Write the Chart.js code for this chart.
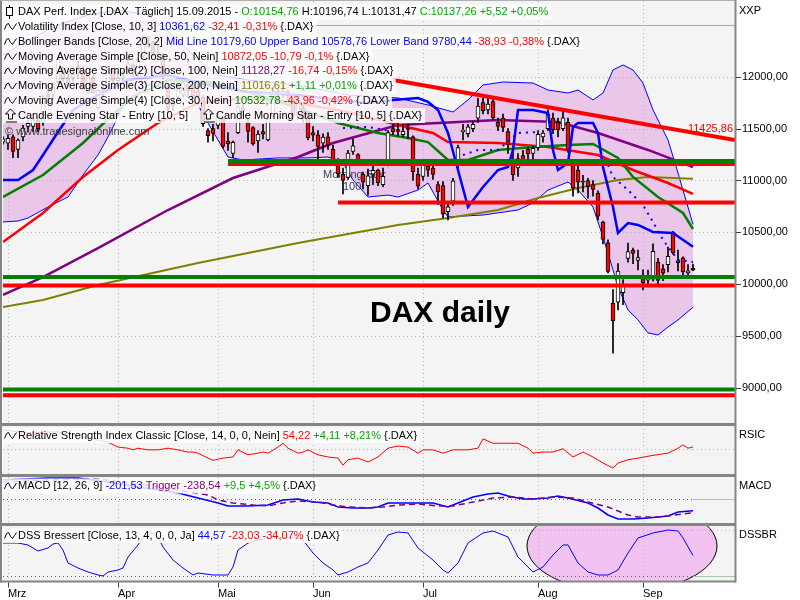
<!DOCTYPE html>
<html>
<head>
<meta charset="utf-8">
<script src="https://cdn.jsdelivr.net/npm/chart.js@4.4.0/dist/chart.umd.min.js"></script>
<style>
  html, body { margin: 0; padding: 0; background: #fff; }
  #wrap { position: relative; width: 800px; height: 600px; }
</style>
</head>
<body>
<div id="wrap"><canvas id="dax" width="800" height="600"></canvas></div>
<script>
// x = trading day index, 0 = 02.03.2015
const monthStarts = [0, 22, 42, 61, 83, 106, 127];
const monthLabels = ['Mrz', 'Apr', 'Mai', 'Jun', 'Jul', 'Aug', 'Sep'];
const priceTicks = [9000, 9500, 10000, 10500, 11000, 11500, 12000];
const firstDay = -1;

// daily candles from 27.02. to 15.09.2015
const opens = [11370,11360,11420,11300,11420,11520,11520,11580,11560,11830,11830,11950,12080,11990,11990,12100,12050,11850,11990,11700,
  11890,11910,12050,11960,11990,12080,12110,12030,12200,12380,12330,12210,12200,11900,11740,11800,11830,11920,11900,11860,
  11800,11480,11500,11530,11590,11380,11260,11460,11700,11560,11510,11380,11470,11390,11620,11860,11830,11850,11780,11620,
  11700,11640,11460,11440,11360,11420,11300,11190,11060,11030,11280,11250,11060,10950,11060,11100,10960,11150,11500,11490,
  11440,11500,11420,11060,11040,11140,11120,10960,10950,10700,10800,11160,11470,11450,11500,11600,11750,11680,11760,11560,
  11600,11470,11200,11120,11240,11300,11260,11315,11420,11500,11600,11560,11500,11560,11150,11100,10990,11000,10960,10880,
  10600,10400,9820,9830,9920,10250,10330,10230,10090,10040,10050,10215,10150,10190,10500,10230,10255,10110,10154.76];
const highs = [11420,11440,11440,11400,11530,11580,11600,11610,11820,11880,11920,12170,12100,12050,12080,12150,12100,12040,12010,11880,
  11920,12100,12080,12030,12050,12180,12140,12180,12390,12390,12340,12300,12220,11920,11800,11920,11960,11960,11920,11930,
  11820,11500,11540,11650,11600,11460,11380,11720,11730,11600,11520,11480,11540,11610,11900,11880,11920,11870,11790,11790,
  11720,11660,11520,11480,11450,11460,11340,11210,11120,11290,11400,11260,11080,11110,11180,11110,11120,11480,11540,11550,
  11540,11540,11430,11120,11200,11170,11150,10990,10990,10790,11020,11340,11540,11540,11565,11790,11790,11800,11780,11600,
  11640,11500,11270,11260,11290,11320,11330,11480,11480,11680,11650,11600,11670,11600,11180,11170,11050,11020,11000,10900,
  10610,10430,9950,10200,10047,10397,10350,10330,10140,10139,10390,10250,10190,10360,10510,10330,10265,10190,10196.74];
const lows = [11350,11300,11220,11220,11380,11470,11470,11470,11530,11720,11780,11940,11950,11900,11960,11980,11880,11840,11840,11690,
  11800,11900,11940,11910,11950,12060,12000,12000,12190,12290,12200,12160,11980,11640,11670,11780,11800,11820,11780,11790,
  11520,11370,11380,11500,11310,11290,11220,11450,11620,11370,11340,11270,11400,11380,11610,11780,11800,11780,11600,11590,
  11560,11390,11380,11180,11270,11300,11150,11030,10870,11010,11250,11170,10920,10860,10960,10950,10940,11140,11440,11430,
  11420,11400,11000,10920,11000,11040,11010,10770,10640,10620,10760,11100,11390,11420,11470,11560,11640,11640,11590,11480,
  11470,11260,11000,11040,11150,11150,11200,11290,11370,11480,11450,11420,11480,11270,10850,10880,10890,10830,10850,10620,
  10390,10110,9338,9755,9806,10215,10200,10139,9946,9975,10030,9990,10035,10120,10290,10130,10090,10080,10131.47];
const closes = [11401,11405,11280,11390,11504,11550,11583,11500,11806,11799,11901,12167,11980,11922,12019,12040,11896,12000,11843,11865,
  11868,12086,11966,11989,12001,12124,12036,12166,12375,12339,12228,12231,12000,11689,11723,11901,11939,11867,11811,11812,
  11547,11432,11454,11622,11327,11351,11368,11710,11673,11472,11352,11447,11447,11592,11853,11849,11864,11815,11625,11772,
  11598,11413,11436,11328,11419,11340,11197,11065,11001,11265,11333,11197,10985,11044,11099,10978,11041,11461,11471,11472,
  11473,11492,11084,10945,11180,11099,11059,10891,10676,10747,10997,11316,11485,11516,11540,11717,11673,11735,11604,11520,
  11512,11347,11056,11211,11198,11257,11309,11444,11456,11636,11490,11490,11604,11293,10925,10985,10985,10940,10915,10657,
  10432,10124,9648,10129,9998,10315,10298,10259,10016,10048,10318,10038,10108,10271,10303,10210,10123,10131.74,10137.26];

// indicator lines, [day, value]
const ma200 = [[-1,9782],[7,9850],[18,9994],[38,10206],[58,10398],[78,10572],[88,10639],[98,10716],[106,10832],[114,10928],[122,11005],[128,11034],[137,11017]];
const ma100 = [[-1,9900],[7,10071],[18,10350],[32,10716],[45,11024],[58,11226],[65,11361],[78,11534],[98,11582],[110,11563],[118,11457],[128,11294],[137,11128]];
const ma50 = [[-1,10408],[7,10687],[15,11034],[22,11294],[30,11553],[38,11746],[48,11794],[58,11746],[68,11659],[78,11534],[85,11457],[88,11370],[98,11360],[108,11322],[118,11245],[125,11101],[132,10976],[137,10872]];
const ma30 = [[-1,10841],[7,11053],[15,11361],[20,11592],[25,11804],[32,11967],[40,11948],[50,11823],[58,11698],[66,11553],[74,11457],[80,11409],[84,11370],[88,11197],[92,11197],[98,11294],[105,11322],[112,11342],[117,11351],[122,11217],[125,11034],[130,10841],[135,10687],[137,10533]];
const volIndex = [[-1,11005],[2,11005],[5,11101],[7,11245],[10,11467],[13,11679],[18,11823],[24,11967],[32,12015],[40,11919],[48,11852],[58,11823],[66,11775],[72,11746],[77,11775],[82,11794],[84,11756],[86,11679],[88,11457],[90,11101],[92,10745],[95,10937],[98,11101],[100,11130],[101,11294],[102,11679],[105,11679],[108,11650],[109,11294],[110,11101],[112,11168],[113,11515],[114,11553],[117,11553],[118,11457],[119,11130],[121,10745],[122,10495],[124,10591],[126,10572],[129,10505],[133,10495],[137,10362]];
const volStops = [
  [[67,11505],[72,11515],[76,11480]],
  [[91,11245],[94,11294],[98,11294],[102,11457],[106,11467]],
  [[120,11149],[121,11034],[124,10908],[127,10764],[129,10601],[131,10428],[134,10235],[137,10216]]
];
const bbUpper = [[-1,12208],[4,12352],[10,12497],[16,12593],[22,12641],[28,12593],[34,12352],[38,12160],[42,12015],[48,11967],[58,11919],[68,11823],[78,11794],[84,11727],[89,11659],[92,11775],[95,11919],[99,11948],[105,11938],[108,11871],[112,11842],[114,11871],[117,11775],[119,11842],[121,12064],[123,12112],[125,12064],[127,11938],[129,11679],[132,11390],[134,11072],[137,10579]];
const bbLower = [[-1,10601],[2,10610],[4,10639],[8,10745],[12,10841],[15,11053],[18,11245],[20,11419],[21,11515],[23,11727],[28,11919],[34,11871],[38,11727],[40,11553],[42,11390],[44,11226],[47,11197],[54,11217],[60,11217],[64,11226],[66,11197],[67,11168],[69,11005],[72,10841],[76,10860],[78,10841],[82,10908],[84,10976],[87,10716],[88,10649],[95,10668],[102,10716],[105,10784],[108,10908],[112,10985],[114,10908],[117,10745],[119,10457],[121,10139],[122,9975],[124,9754],[126,9658],[128,9533],[130,9513],[132,9590],[134,9658],[137,9780]];

const rsi = [[-1,85],[4,80],[10,82],[16,70],[20,63],[22,54],[24,52],[25,49],[26,52],[28,49],[30,49],[32,52],[34,49],[36,45],[37,45],[38,43],[40,34],[41,30],[43,34],[45,36],[46,49],[48,40],[50,43],[51,45],[52,43],[54,54],[55,61],[56,52],[58,43],[59,45],[60,49],[62,40],[64,36],[66,34],[67,21],[68,31],[70,34],[72,27],[74,36],[76,52],[78,56],[80,54],[82,43],[83,49],[85,49],[87,43],[89,49],[92,49],[94,52],[95,69],[97,61],[98,61],[100,61],[102,61],[104,52],[105,43],[107,45],[109,45],[111,51],[113,36],[115,45],[117,36],[119,25],[121,16],[122,25],[124,31],[126,34],[129,39],[132,43],[134,52],[135,58],[136,52],[137,54.22]];
const macd = [[-1,341],[8,376],[14,376],[20,306],[26,217],[30,164],[34,111],[38,23],[42,-65],[44,-118],[48,-118],[52,-101],[55,-12],[58,5],[61,-48],[64,-65],[66,-136],[69,-154],[72,-154],[74,-136],[76,-65],[78,-65],[82,-65],[85,-65],[88,-136],[90,-65],[93,41],[96,94],[98,111],[100,58],[103,5],[105,5],[108,23],[110,58],[112,23],[116,-65],[118,-154],[120,-277],[122,-348],[125,-348],[128,-330],[132,-295],[134,-224],[137,-201.53]];
const trigger = [[-1,306],[8,341],[18,359],[26,270],[32,200],[36,129],[40,76],[42,-12],[45,-65],[49,-101],[52,-118],[55,-65],[58,-30],[62,-48],[65,-101],[68,-136],[72,-154],[75,-136],[78,-101],[82,-83],[86,-118],[89,-118],[93,-48],[97,23],[101,41],[105,5],[109,41],[113,23],[116,-48],[120,-136],[124,-277],[126,-313],[130,-313],[137,-238.54]];
const dss = [[-1,71.7],[2,71.7],[4,67.4],[5,60.9],[6,54.3],[8,60.9],[9,69.6],[10,71.7],[11,56.5],[12,28.3],[14,17.4],[16,8.7],[18,2.2],[19,0],[20,8.7],[22,13],[23,17.4],[24,41.3],[26,67.4],[27,84.8],[29,93.5],[30,84.8],[31,63],[33,34.8],[35,17.4],[37,2.2],[38,6.5],[41,2.2],[44,2.2],[45,19.6],[46,56.5],[48,71.7],[50,78.3],[53,82.6],[57,84.8],[59,78.3],[61,50],[63,28.3],[65,13],[66,2.2],[68,8.7],[70,19.6],[72,28.3],[74,56.5],[76,89.1],[78,95.7],[80,93.5],[82,60.9],[85,34.8],[87,13],[88,6.5],[90,28.3],[92,71.7],[95,93.5],[97,97.8],[100,84.8],[102,41.3],[104,19.6],[105,8.7],[107,19.6],[109,45.7],[111,67.4],[112,67.4],[114,28.3],[116,8.7],[118,2.2],[120,2.2],[122,13],[124,50],[126,82.6],[129,93.5],[132,100],[134,97.8],[135,82.6],[137,44.57]];

// drawn support / resistance lines
const supportLevels = [11188, 11159, 10788, 10071, 9990, 8988, 8932];
const supportFrom = [44, 44, 66, -1, -1, -1, -1];
const trendDays = [77, 145.4];
const trendValues = [11967, 11390];
const trendLabel = '11425,86';

// view window
const xMin = -1, xMax = 145.4;

const K = '#000000', BL = '#0000ff', RD = '#ff0000', GN = '#00aa00', PU = '#800080', OL = '#808000', DG = '#008000';
const FONT = '11px "Liberation Sans", Arial, sans-serif';
const supportColors = [DG, RD, RD, DG, RD, DG, RD];

const xy = arr => arr.map(([x, y]) => ({ x, y }));
const days = opens.map((_, i) => firstDay + i);

function lineSet(pts, color, width, axis, order, extra) {
  return Object.assign({
    type: 'line', data: xy(pts), borderColor: color, borderWidth: width,
    pointRadius: 0, fill: false, tension: 0, yAxisID: axis, order: order
  }, extra || {});
}

const datasets = [
  lineSet(bbUpper, BL, 1, 'y', 40, { fill: '+1', backgroundColor: '#eac6ea' }),
  lineSet(bbLower, BL, 1, 'y', 39),
  lineSet(ma200, OL, 2, 'y', 30),
  lineSet(ma100, PU, 2.5, 'y', 29),
  lineSet(ma50, RD, 2.5, 'y', 28),
  lineSet(ma30, DG, 2.5, 'y', 27),
  {
    type: 'bar', yAxisID: 'y', order: 21, grouped: false, barThickness: 1,
    data: days.map((d, i) => ({ x: d, y: [lows[i], highs[i]] })),
    backgroundColor: '#000'
  },
  {
    type: 'bar', yAxisID: 'y', order: 20, grouped: false, barThickness: 4, minBarLength: 1,
    borderSkipped: false, borderWidth: 1, borderColor: '#000',
    data: days.map((d, i) => ({ x: d, y: [opens[i], closes[i]] })),
    backgroundColor: days.map((d, i) => closes[i] >= opens[i] ? '#ffffff' : '#ff0000')
  },
  lineSet(volIndex, BL, 2.5, 'y', 15),
  ...volStops.map(seg => lineSet(seg, BL, 2, 'y', 14, { borderDash: [2, 5] })),
  ...supportLevels.map((v, i) => lineSet([[supportFrom[i], v], [xMax, v]], supportColors[i], 4, 'y', 10 - (supportColors[i] === DG ? 1 : 0))),
  lineSet(trendDays.map((d, i) => [d, trendValues[i]]), RD, 4, 'y', 1),
  lineSet(rsi, RD, 1, 'yr', 5),
  lineSet(macd, BL, 1.5, 'ym', 5),
  lineSet(trigger, PU, 1.5, 'ym', 4, { borderDash: [6, 4] }),
  lineSet(dss, BL, 1, 'yd', 5)
];

// legend rows: [text, colour]
const legendRows = [
  { y: 12, x: 18, bx: 3, icon: 'candle', parts: [['DAX Perf. Index [.DAX  Täglich] 15.09.2015 - ', K], ['O:10154,76', GN], [' H:10196,74 L:10131,47 ', K], ['C:10137,26 +5,52 +0,05%', GN]] },
  { y: 26.5, x: 18, bx: 3, icon: 'sine', parts: [['Volatility Index [Close, 10, 3] ', K], ['10361,62 ', BL], ['-32,41 -0,31% ', RD], ['{.DAX}', K]] },
  { y: 41.5, x: 18, bx: 3, icon: 'sine', parts: [['Bollinger Bands [Close, 20, 2] ', K], ['Mid Line 10179,60 Upper Band 10578,76 Lower Band 9780,44 ', BL], ['-38,93 -0,38% ', RD], ['{.DAX}', K]] },
  { y: 56.5, x: 18, bx: 3, icon: 'sine', parts: [['Moving Average Simple [Close, 50, Nein] ', K], ['10872,05 -10,79 -0,1% ', RD], ['{.DAX}', K]] },
  { y: 71, x: 18, bx: 3, icon: 'sine', parts: [['Moving Average Simple(2) [Close, 100, Nein] ', K], ['11128,27 ', PU], ['-16,74 -0,15% ', RD], ['{.DAX}', K]] },
  { y: 86, x: 18, bx: 3, icon: 'sine', parts: [['Moving Average Simple(3) [Close, 200, Nein] ', K], ['11016,61 ', OL], ['+1,11 +0,01% ', GN], ['{.DAX}', K]] },
  { y: 100.5, x: 18, bx: 3, icon: 'sine', parts: [['Moving Average Simple(4) [Close, 30, Nein] ', K], ['10532,78 ', DG], ['-43,96 -0,42% ', RD], ['{.DAX}', K]] },
  { y: 115.5, x: 18, bx: 3, icon: 'arrow', parts: [['Candle Evening Star - Entry [10, 5]', K]] },
  { y: 115.5, x: 216, bx: 201, icon: 'arrow', parts: [['Candle Morning Star - Entry [10, 5] {.DAX}', K]] },
  { y: 435.5, x: 18, bx: 3, icon: 'sine', parts: [['Relative Strength Index Classic [Close, 14, 0, 0, Nein] ', K], ['54,22 ', RD], ['+4,11 +8,21% ', GN], ['{.DAX}', K]] },
  { y: 486, x: 18, bx: 3, icon: 'sine', parts: [['MACD [12, 26, 9] ', K], ['-201,53 ', BL], ['Trigger -238,54 ', PU], ['+9,5 +4,5% ', GN], ['{.DAX}', K]] },
  { y: 535.5, x: 18, bx: 3, icon: 'sine', parts: [['DSS Bressert [Close, 13, 4, 0, 0, Ja] ', K], ['44,57 ', BL], ['-23,03 -34,07% ', RD], ['{.DAX}', K]] }
];

function seg(ctx, x1, y1, x2, y2, color, width, dash) {
  ctx.save();
  ctx.strokeStyle = color;
  ctx.lineWidth = width;
  ctx.setLineDash(dash || []);
  ctx.beginPath();
  ctx.moveTo(x1, y1);
  ctx.lineTo(x2, y2);
  ctx.stroke();
  ctx.restore();
}

function drawIcon(ctx, kind, x, y) {
  ctx.save();
  ctx.strokeStyle = '#000';
  ctx.lineWidth = 1;
  ctx.beginPath();
  if (kind === 'sine') {
    ctx.moveTo(x + 0.5, y + 3); ctx.lineTo(x + 2.5, y - 2); ctx.lineTo(x + 4.5, y - 3);
    ctx.lineTo(x + 6.5, y + 1); ctx.lineTo(x + 8.5, y + 3); ctx.lineTo(x + 10.5, y);
    ctx.lineTo(x + 12.5, y - 3);
    ctx.stroke();
  } else if (kind === 'candle') {
    ctx.moveTo(x + 5.5, y - 7); ctx.lineTo(x + 5.5, y + 7);
    ctx.stroke();
    ctx.fillStyle = '#fff';
    ctx.fillRect(x + 2.5, y - 4.5, 6, 8);
    ctx.strokeRect(x + 2.5, y - 4.5, 6, 8);
  } else {
    ctx.moveTo(x + 6.5, y - 6.5); ctx.lineTo(x + 11.5, y - 1.5); ctx.lineTo(x + 8.5, y - 1.5);
    ctx.lineTo(x + 8.5, y + 3.5); ctx.lineTo(x + 4.5, y + 3.5); ctx.lineTo(x + 4.5, y - 1.5);
    ctx.lineTo(x + 1.5, y - 1.5); ctx.closePath();
    ctx.moveTo(x + 2, y + 6.5); ctx.lineTo(x + 13, y + 6.5);
    ctx.stroke();
  }
  ctx.restore();
}

function drawRow(ctx, row) {
  ctx.font = FONT;
  const full = row.parts.map(p => p[0]).join('');
  const w = ctx.measureText(full).width;
  ctx.fillStyle = 'rgba(255,255,255,0.82)';
  ctx.fillRect(row.bx, row.y - 7.5, row.x - row.bx + w + 3, 15);
  ctx.textBaseline = 'middle';
  ctx.textAlign = 'left';
  let x = row.x;
  row.parts.forEach(([t, c]) => {
    ctx.fillStyle = c;
    ctx.fillText(t, x, row.y);
    x += ctx.measureText(t).width;
  });
  drawIcon(ctx, row.icon, row.bx + 1, row.y);
}

const decor = {
  id: 'decor',
  beforeDraw(chart) {
    const { ctx, chartArea: a } = chart;
    ctx.save();
    ctx.fillStyle = '#ffffff';
    ctx.fillRect(0, 0, chart.width, chart.height);
    ctx.fillStyle = '#f4f4f4';
    ctx.fillRect(a.left, a.top, a.right - a.left, a.bottom - a.top);
    ctx.restore();
  },
  beforeDatasetsDraw(chart) {
    const { ctx, chartArea: a, scales: s } = chart;
    // highlighted zone in the DSS panel
    ctx.save();
    ctx.beginPath();
    ctx.rect(a.left, s.yd.top + 1.5, a.right - a.left, s.yd.bottom - s.yd.top - 1.5);
    ctx.clip();
    const cx = s.x.getPixelForValue(122.8);
    const rx = s.x.getPixelForValue(141.8) - cx;
    const cy = s.yd.getPixelForValue(65.2);
    const ry = cy - s.yd.getPixelForValue(165.2);
    ctx.beginPath();
    ctx.ellipse(cx, cy, rx, ry, 0, 0, Math.PI * 2);
    ctx.fillStyle = '#f2c2f2';
    ctx.fill();
    ctx.strokeStyle = '#000';
    ctx.lineWidth = 1;
    ctx.stroke();
    ctx.restore();

    // dotted grid
    const gc = '#a9bda9';
    monthStarts.forEach(d => {
      const px = Math.round(s.x.getPixelForValue(d)) + 0.5;
      seg(ctx, px, a.top, px, a.bottom, gc, 1, [1, 3]);
    });
    priceTicks.forEach(v => {
      const py = Math.round(s.y.getPixelForValue(v)) + 0.5;
      seg(ctx, a.left, py, a.right, py, gc, 1, [1, 3]);
    });
    const lvl = (sc, v, c) => {
      const py = Math.round(sc.getPixelForValue(v)) + 0.5;
      seg(ctx, a.left, py, s.x.getPixelForValue(137), py, c, 1, [1, 3]);
      seg(ctx, s.x.getPixelForValue(137), py, a.right, py, c === gc ? gc : '#a8c8a8', 1, c === gc ? [1, 3] : []);
    };
    lvl(s.yr, 50, gc);
    lvl(s.ym, 0, '#606060');
    lvl(s.yd, 0, '#606060');
    lvl(s.yd, 100, gc);

    // pattern marker text
    ctx.font = FONT;
    ctx.fillStyle = '#3a3a6a';
    ctx.textBaseline = 'middle';
    ctx.textAlign = 'left';
    ctx.fillText('Morning Star', s.x.getPixelForValue(63), s.y.getPixelForValue(11053));
    ctx.fillText('100', s.x.getPixelForValue(67), s.y.getPixelForValue(10933));
  },
  afterDatasetsDraw(chart) {
    const { ctx, chartArea: a, scales: s } = chart;
    ctx.save();
    seg(ctx, a.left, 25.5, a.right, 25.5, '#a8a8a8', 1);

    // label of the trend line
    ctx.font = FONT;
    ctx.fillStyle = RD;
    ctx.textAlign = 'right';
    ctx.textBaseline = 'middle';
    ctx.fillText(trendLabel, a.right - 2, 129);

    ctx.font = 'bold 30px "Liberation Sans", Arial, sans-serif';
    ctx.fillStyle = '#000';
    ctx.textAlign = 'left';
    ctx.textBaseline = 'alphabetic';
    ctx.fillText('DAX daily', 370, 322);

    ctx.font = FONT;
    ctx.fillStyle = '#3c3c3c';
    ctx.textBaseline = 'middle';
    ctx.fillText('\u00a9 www.tradesignalonline.com', 5, 132);

    legendRows.forEach(r => drawRow(ctx, r));

    // panel frames
    const frame = '#858585';
    [s.yr.top, s.ym.top, s.yd.top].forEach(yy => seg(ctx, 0, yy, a.right + 1, yy, frame, 3));
    seg(ctx, 0, a.bottom, a.right + 1, a.bottom, frame, 2);
    seg(ctx, a.right + 0.5, 0, a.right + 0.5, a.bottom + 1, frame, 2);
    seg(ctx, 1, 0, 1, a.bottom + 1, frame, 2);
    seg(ctx, 0, 0.5, a.right, 0.5, '#b0b0b0', 1);

    // axis tick marks
    priceTicks.forEach(v => {
      const py = Math.round(s.y.getPixelForValue(v)) + 0.5;
      seg(ctx, a.right + 1, py, a.right + 6, py, '#404040', 1);
    });
    monthStarts.forEach(d => {
      const px = Math.round(s.x.getPixelForValue(d)) + 0.5;
      seg(ctx, px, a.bottom + 1, px, a.bottom + 6, '#404040', 1);
    });

    ctx.font = FONT;
    ctx.fillStyle = '#000';
    ctx.textAlign = 'left';
    ctx.textBaseline = 'middle';
    ctx.fillText('XXP', 739, 11);
    ctx.fillText('RSIC', 739, 435);
    ctx.fillText('MACD', 739, 486);
    ctx.fillText('DSSBR', 739, 535);
    ctx.restore();
  }
};

Chart.defaults.font.family = '"Liberation Sans", Arial, sans-serif';
Chart.defaults.font.size = 11;
Chart.defaults.color = '#000';

const hidden = { display: false, drawTicks: false };
const fitSide = sc => { sc.width = 65; sc.paddingTop = 0; sc.paddingBottom = 0; };
const sideAxis = (weight, min, max) => ({
  type: 'linear', position: 'right', stack: 'panels', stackWeight: weight, min, max,
  afterFit: fitSide,
  ticks: { display: false }, grid: hidden, border: { display: false }
});

new Chart(document.getElementById('dax'), {
  type: 'line',
  data: { datasets },
  options: {
    responsive: false,
    animation: false,
    devicePixelRatio: 1,
    events: [],
    layout: { padding: { left: 3, top: 1, right: 0, bottom: 0 } },
    plugins: {
      legend: { display: false },
      tooltip: { enabled: false },
      filler: { drawTime: 'beforeDatasetsDraw' }
    },
    scales: {
      x: {
        type: 'linear', min: xMin, max: xMax, offset: false,
        afterBuildTicks: sc => { sc.ticks = monthStarts.map(v => ({ value: v })); },
        afterFit: sc => { sc.height = 18.5; sc.paddingLeft = 0; sc.paddingRight = 0; },
        ticks: { autoSkip: false, maxRotation: 0, align: 'start', padding: 6,
          callback: v => monthLabels[monthStarts.indexOf(v)] },
        grid: hidden, border: { display: false }
      },
      y: {
        type: 'linear', position: 'right', stack: 'panels', stackWeight: 423.5,
        min: 8651.6, max: 12727.6,
        afterBuildTicks: sc => { sc.ticks = priceTicks.map(v => ({ value: v })); },
        afterFit: fitSide,
        ticks: { padding: 7, callback: v => v.toFixed(2).replace('.', ',') },
        grid: hidden, border: { display: false }
      },
      yr: sideAxis(51, 2.36, 95.1),
      ym: sideAxis(49, -445.2, 420.5),
      yd: sideAxis(57, -11.96, 111.96)
    }
  },
  plugins: [decor]
});
</script>
</body>
</html>
